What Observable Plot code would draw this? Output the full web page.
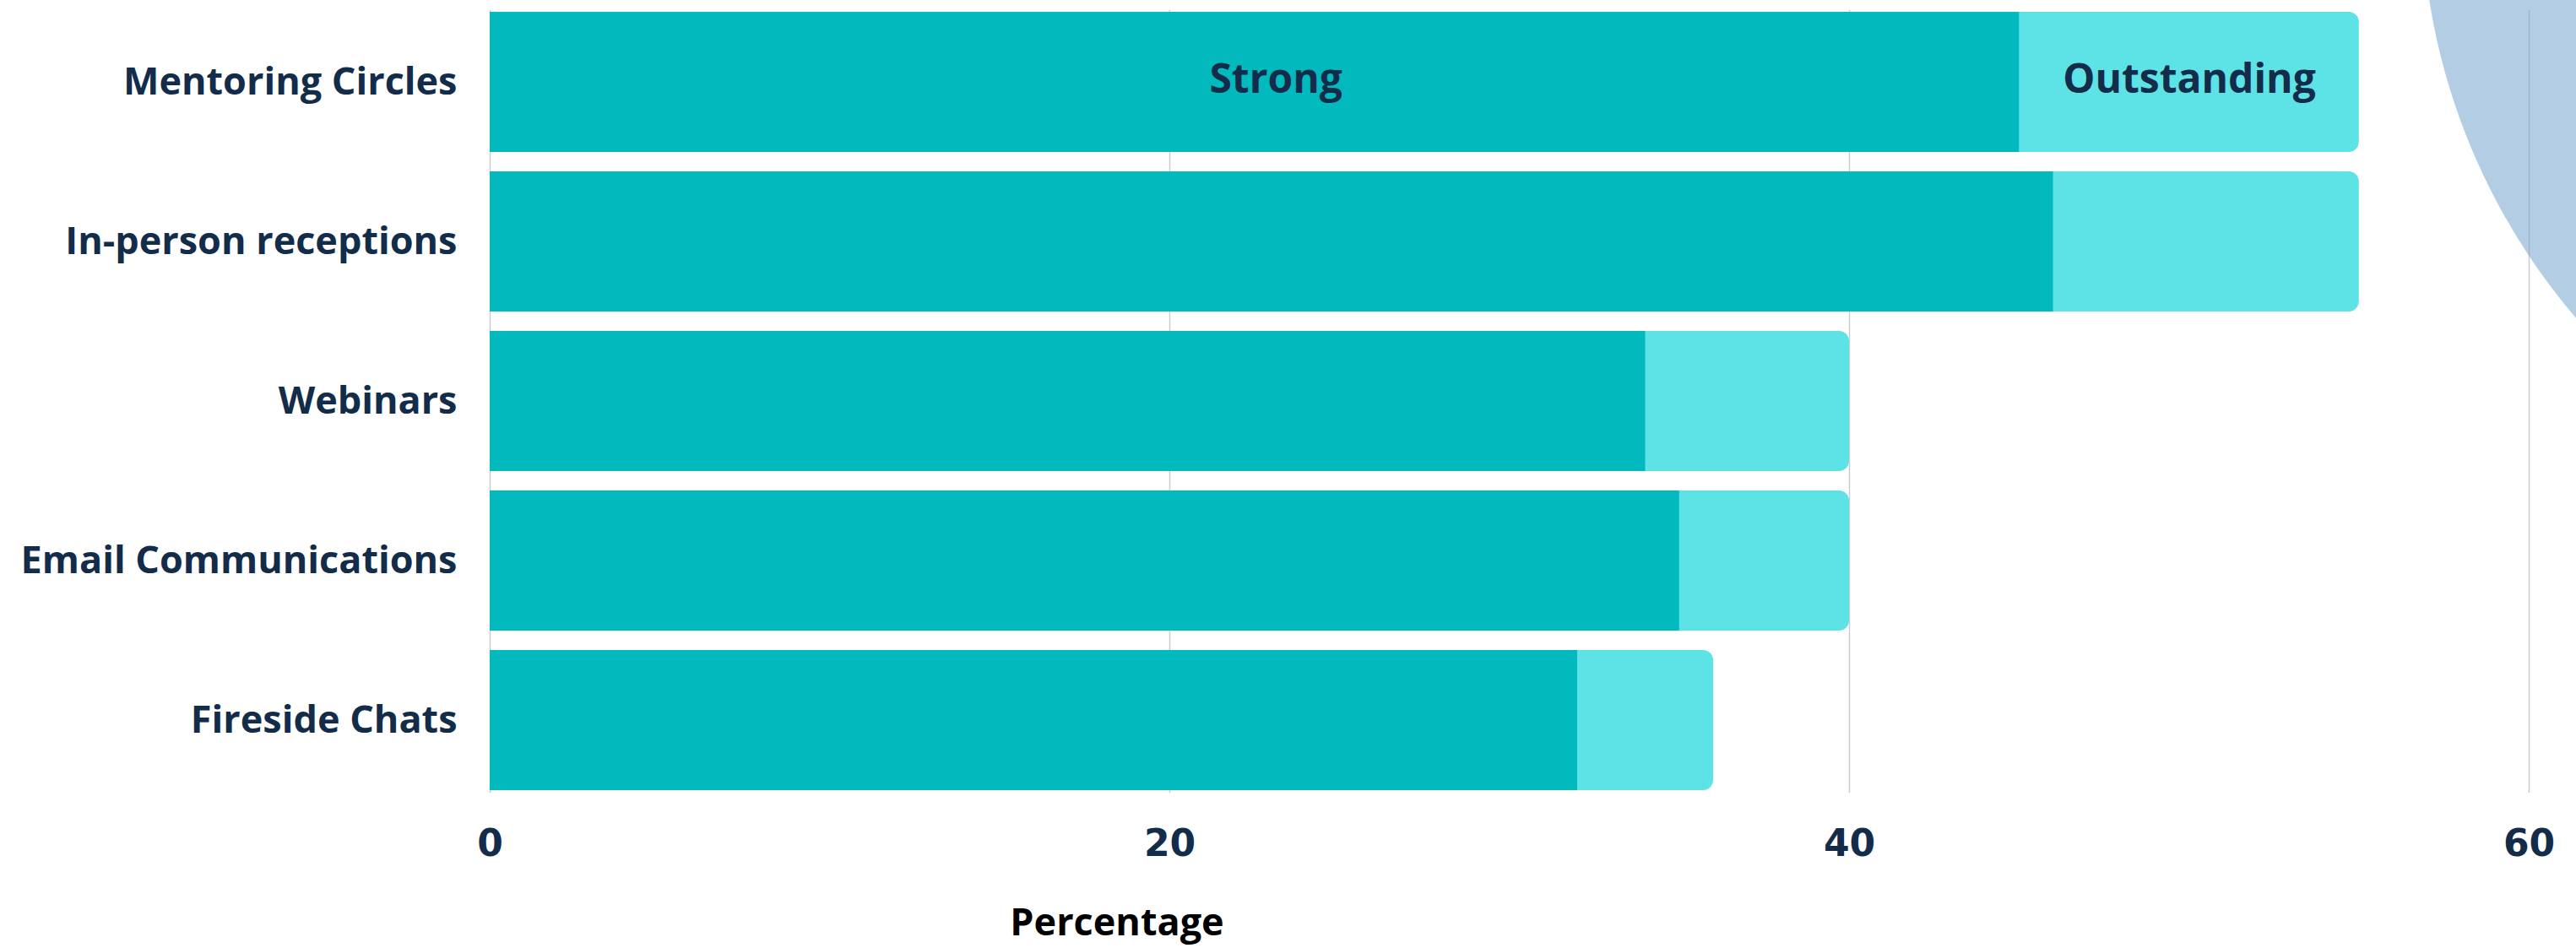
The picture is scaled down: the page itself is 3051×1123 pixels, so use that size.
<!DOCTYPE html>
<html>
<head>
<meta charset="utf-8">
<script src="https://cdn.jsdelivr.net/npm/d3@7"></script>
<script src="https://cdn.jsdelivr.net/npm/@observablehq/plot@0.6"></script>
<style>
  html, body { margin: 0; padding: 0; background: #ffffff; overflow: hidden; }
  #wrap { position: relative; width: 3051px; height: 1123px; overflow: hidden; }
  #deco { position: absolute; left: 2868px; top: -878px; width: 1520px; height: 1520px; border-radius: 50%; background: #b3cee4; }
  #chart { position: absolute; left: 0; top: 0; }
  #xlabel { position: absolute; left: 1323px; top: 1062px; transform: translateX(-50%);
            font-family: "Open Sans", sans-serif; font-weight: 700; font-size: 45px; color: #000; line-height: 57px; }
</style>
</head>
<body>
<div id="wrap">
  <div id="deco"></div>
  <div id="chart"></div>
  <div id="xlabel">Percentage</div>
</div>
<script>
const categories = ["Mentoring Circles", "In-person receptions", "Webinars", "Email Communications", "Fireside Chats"];
const strong = [45, 46, 34, 35, 32];
const outstanding = [10, 9, 6, 5, 4];
const segmentLabels = ["Strong", "Outstanding"];
const xTicks = [0, 20, 40, 60];

const rows = categories.map((c, i) => ({category: c, strong: strong[i], outstanding: outstanding[i]}));
const labelRow = rows[0];
const strongLabel = [{category: labelRow.category, x: labelRow.strong / 2, text: segmentLabels[0]}];
const outLabel = [{category: labelRow.category, x: labelRow.strong + labelRow.outstanding / 2, text: segmentLabels[1]}];

const navy = "#132c4a";
const font = "'Open Sans', sans-serif";

const chart = Plot.plot({
  width: 3051,
  height: 1062,
  marginLeft: 580,
  marginRight: 56,
  marginTop: 12,
  marginBottom: 123,
  style: {background: "transparent", overflow: "visible"},
  x: {domain: [0, 60]},
  y: {domain: categories, paddingInner: 0.12, paddingOuter: 0},
  marks: [
    Plot.gridX(xTicks, {stroke: "#8f9cab", strokeOpacity: 0.5, strokeWidth: 1.5}),
    Plot.barX(rows, {y: "category", x: d => d.strong + d.outstanding, fill: "#5de2e6", rx: 12}),
    Plot.barX(rows, {y: "category", x: "strong", fill: "#02babe"}),
    Plot.text(strongLabel, {x: "x", y: "category", text: "text", dx: 25, dy: -3,
      fill: navy, fontFamily: font, fontWeight: 700, fontSize: 48}),
    Plot.text(outLabel, {x: "x", y: "category", text: "text", dy: -3,
      fill: navy, fontFamily: font, fontWeight: 700, fontSize: 48}),
    Plot.axisY({tickSize: 0, tickPadding: 39, label: null, color: navy,
      fontFamily: font, fontWeight: 700, fontSize: 45}),
    Plot.axisX({ticks: xTicks, tickSize: 0, tickPadding: 43, label: null, color: navy,
      fontFamily: "'DejaVu Sans', sans-serif", fontWeight: 700, fontSize: 44})
  ]
});
document.getElementById("chart").appendChild(chart);
</script>
</body>
</html>
